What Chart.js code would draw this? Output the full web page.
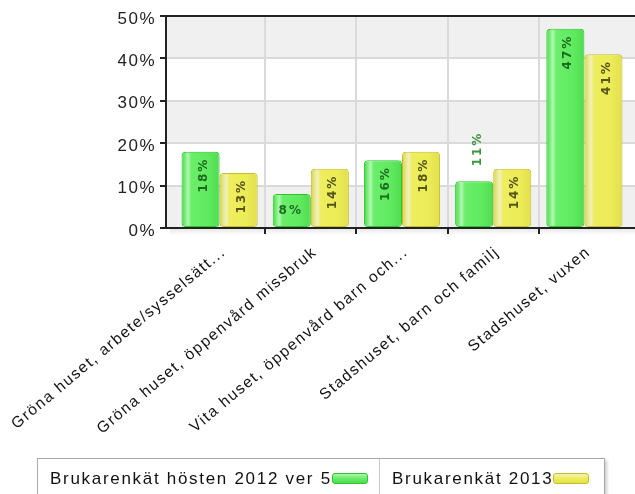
<!DOCTYPE html>
<html>
<head>
<meta charset="utf-8">
<script src="https://cdn.jsdelivr.net/npm/chart.js@4.4.1/dist/chart.umd.min.js"></script>
<style>
  body { margin: 0; background: #fff; }
  #wrap { position: relative; width: 635px; height: 494px; overflow: hidden; }
  #c { position: absolute; left: 0; top: 0; }
  #legend {
    position: absolute; left: 37px; top: 458px; width: 566px; height: 44px;
    border: 1px solid #a8a8a8; background: #fff; display: flex;
    box-shadow: 2px 2px 3px rgba(0,0,0,0.2);
    font-family: "Liberation Sans", Arial, sans-serif; font-size: 17px;
    letter-spacing: 1.7px; color: #111;
  }
  .item { display: flex; align-items: flex-start; padding: 10px 0 0 12px; box-sizing: border-box; }
  .item + .item { border-left: 1px solid #c8c8c8; }
  .sw { width: 36px; height: 11px; border-radius: 3px; margin: 4px 0 0 0; box-sizing: border-box; }
</style>
</head>
<body>
<div id="wrap">
  <canvas id="c" width="635" height="458"></canvas>
  <div id="legend"></div>
</div>
<script>
const kategorier = [
  'Gröna huset, arbete/sysselsätt...',
  'Gröna huset, öppenvård missbruk',
  'Vita huset, öppenvård barn och...',
  'Stadshuset, barn och familj',
  'Stadshuset, vuxen'
];
const serie2012 = [18, 8, 16, 11, 47];
const serie2013 = [13, 14, 18, 14, 41];
const namn2012 = 'Brukarenkät hösten 2012 ver 5';
const namn2013 = 'Brukarenkät 2013';
const yTicks = [0, 10, 20, 30, 40, 50];

const gron = {
  border: '#2cc42c', text: '#1f6a1f', textOut: '#3c963c',
  stops: [[0, '#40d840'], [0.1, '#7cf07c'], [0.17, '#b2f6b2'], [0.26, '#6aee6a'], [0.7, '#60ea60'], [1, '#50dc50']]
};
const gul = {
  border: '#c6be28', text: '#55541a', textOut: '#77761f',
  stops: [[0, '#d6d440'], [0.1, '#e8e888'], [0.17, '#f0f0c0'], [0.26, '#eeee5e'], [0.7, '#ecec58'], [1, '#e2e04c']]
};

const ctx = document.getElementById('c').getContext('2d');

// horizontal gradient across one bar
function barFill(c, stil) {
  const chart = c.chart;
  const x = chart.scales.x;
  if (!chart.chartArea || !x || c.dataIndex === undefined) return stil.stops[3][1];
  const kat = x.getPixelForValue(1) - x.getPixelForValue(0);
  const bw = kat * 0.835 / 2;
  const mid = x.getPixelForValue(c.dataIndex) + (c.datasetIndex === 0 ? -bw / 2 : bw / 2);
  const g = chart.ctx.createLinearGradient(mid - bw / 2, 0, mid + bw / 2, 0);
  stil.stops.forEach(s => g.addColorStop(s[0], s[1]));
  return g;
}

// no grid line / tick at the two outer edges of the category axis
const kant = c => c.index === undefined || c.index === 0 || c.index >= kategorier.length;

const bakgrund = {
  id: 'bakgrund',
  beforeUpdate(chart) { chart.ctx.letterSpacing = '1.5px'; },
  afterLayout(chart) {
    // category axis starts a bit to the right of the value axis
    const x = chart.scales.x;
    x.left = chart.chartArea.left + 8;
    x.right = chart.chartArea.right - 5;
    x.configure();
  },
  beforeDraw(chart) {
    const { ctx, chartArea: a, scales: { y } } = chart;
    ctx.letterSpacing = '1.5px';
    ctx.save();
    ctx.fillStyle = '#f0f0f0';
    for (let v = 0; v < 50; v += 20) {
      const t = y.getPixelForValue(v + 10), b = y.getPixelForValue(v);
      ctx.fillRect(a.left, t, chart.width - a.left, b - t);
    }
    // soft shadow under the plot
    const g = ctx.createLinearGradient(0, a.bottom, 0, a.bottom + 7);
    g.addColorStop(0, 'rgba(0,0,0,0.10)');
    g.addColorStop(1, 'rgba(0,0,0,0)');
    ctx.fillStyle = g;
    ctx.fillRect(a.left + 4, a.bottom, chart.width - a.left, 7);
    ctx.restore();
  }
};

const etiketter = {
  id: 'etiketter',
  afterDatasetsDraw(chart) {
    const c = chart.ctx;
    c.save();
    c.font = 'bold 12px "DejaVu Sans", sans-serif';
    c.letterSpacing = '2px';
    chart.data.datasets.forEach((ds, di) => {
      const stil = di === 0 ? gron : gul;
      chart.getDatasetMeta(di).data.forEach((bar, i) => {
        const txt = ds.data[i] + '%';
        const w = c.measureText(txt).width;
        const h = bar.base - bar.y;
        c.fillStyle = stil.text;
        if (w < bar.width - 10) {
          c.textAlign = 'center';
          c.textBaseline = 'middle';
          c.fillText(txt, bar.x - 1, bar.y + h / 2);
          return;
        }
        c.save();
        c.textBaseline = 'middle';
        if (h >= w + 14) {
          c.translate(bar.x + 3, bar.y + 6);
          c.rotate(-Math.PI / 2);
          c.textAlign = 'right';
        } else {
          c.fillStyle = stil.textOut;
          c.translate(bar.x + 4, bar.y - 15);
          c.rotate(-Math.PI / 2);
          c.textAlign = 'left';
        }
        c.fillText(txt, 0, 0);
        c.restore();
      });
    });
    c.restore();
  }
};

const chart = new Chart(ctx, {
  type: 'bar',
  data: {
    labels: kategorier,
    datasets: [
      { label: namn2012, data: serie2012, backgroundColor: c => barFill(c, gron), borderColor: gron.border },
      { label: namn2013, data: serie2013, backgroundColor: c => barFill(c, gul), borderColor: gul.border }
    ]
  },
  options: {
    responsive: false,
    animation: false,
    devicePixelRatio: 1,
    layout: { padding: { left: 108, top: 16, right: 0, bottom: 0 } },
    datasets: {
      bar: { categoryPercentage: 0.835, barPercentage: 1, borderWidth: 1, borderRadius: 4, borderSkipped: false }
    },
    plugins: { legend: { display: false }, tooltip: { enabled: false } },
    scales: {
      x: {
        afterFit: s => { s.height = 230; s.paddingLeft = 0; s.paddingRight = 0; },
        border: { display: false },
        grid: {
          color: c => kant(c) ? 'transparent' : '#dadada',
          tickColor: c => kant(c) ? 'transparent' : '#222',
          lineWidth: 2,
          tickLength: 6
        },
        ticks: {
          autoSkip: false, minRotation: 40, maxRotation: 40, padding: 9, labelOffset: 4,
          color: '#111', font: { family: '"Liberation Sans", Arial, sans-serif', size: 15.6 }
        }
      },
      y: {
        min: 0, max: 50,
        afterFit: s => { s.width = 58; },
        afterBuildTicks: s => { s.ticks = yTicks.map(v => ({ value: v })); },
        border: { color: '#222', width: 2 },
        grid: {
          color: c => (c.tick.value === 0 || c.tick.value === 50) ? '#222' : '#dadada',
          tickColor: '#222',
          lineWidth: 2,
          tickLength: 6
        },
        ticks: {
          callback: v => v + '%', padding: 4, labelOffset: 3,
          color: '#222', font: { family: '"Liberation Sans", Arial, sans-serif', size: 17 }
        }
      }
    }
  },
  plugins: [bakgrund, etiketter]
});

// legend: text first, colour swatch after it
const legend = document.getElementById('legend');
const bredd = [341, 225];
chart.data.datasets.forEach((ds, i) => {
  const stil = i === 0 ? gron : gul;
  const item = document.createElement('div');
  item.className = 'item';
  item.style.width = bredd[i] + 'px';
  const t = document.createElement('span');
  t.textContent = ds.label;
  const sw = document.createElement('span');
  sw.className = 'sw';
  sw.style.border = '1px solid ' + stil.border;
  sw.style.background = 'linear-gradient(to bottom, ' + stil.stops[2][1] + ', ' + stil.stops[3][1] + ' 45%, ' + stil.stops[5][1] + ')';
  item.appendChild(t);
  item.appendChild(sw);
  legend.appendChild(item);
});
</script>
</body>
</html>
